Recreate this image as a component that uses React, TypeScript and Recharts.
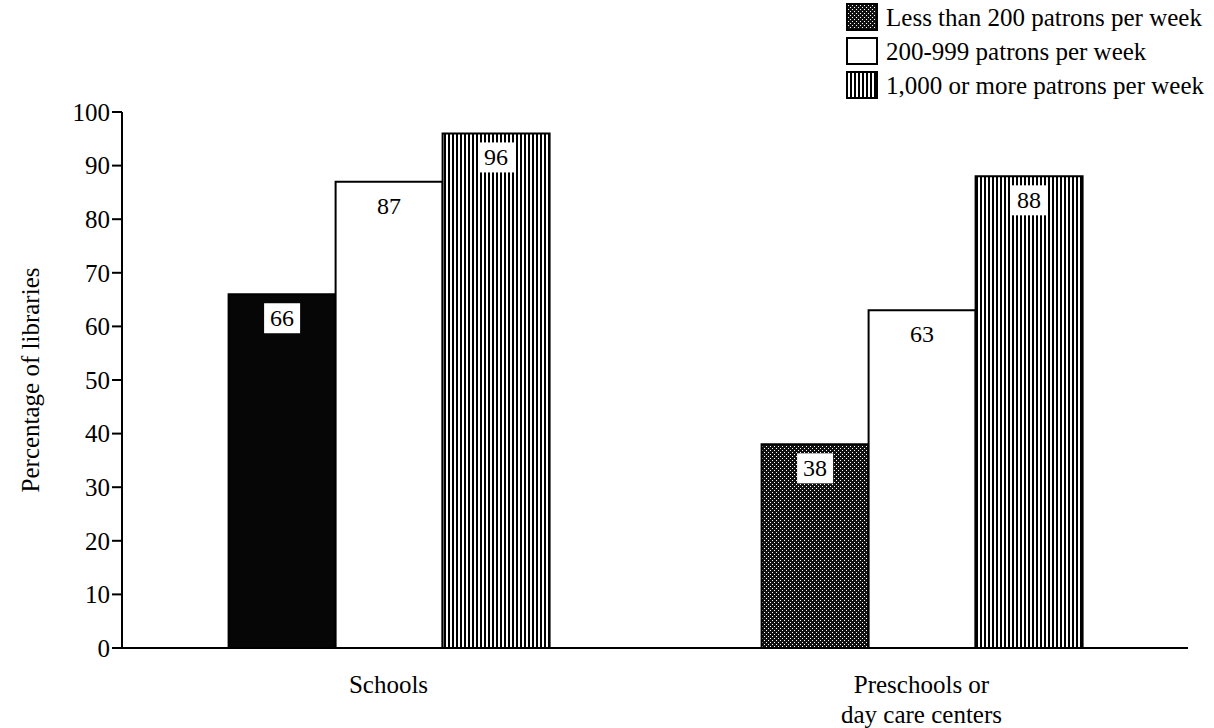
import React from "react";
import { BarChart, Bar, XAxis, YAxis, Cell, LabelList } from "recharts";

const categories = ["Schools", "Preschools or day care centers"];
const categoryLines = [["Schools"], ["Preschools or", "day care centers"]];
const under200 = [66, 38];
const from200to999 = [87, 63];
const over1000 = [96, 88];
const seriesNames = [
  "Less than 200 patrons per week",
  "200-999 patrons per week",
  "1,000 or more patrons per week",
];
const yTicks = [0, 10, 20, 30, 40, 50, 60, 70, 80, 90, 100];

const data = categories.map((name, i) => ({
  name,
  small: under200[i],
  medium: from200to999[i],
  large: over1000[i],
}));

const FONT = '"Liberation Serif", "Times New Roman", serif';
const smallFills = ["#060606", "url(#hatch)"];
const swatchFills = ["url(#hatch)", "#fff", "url(#stripes)"];

function ValueLabel(props: any) {
  const { x, y, width, value } = props;
  const cx = x + width / 2;
  const cy = y + 24;
  return (
    <g>
      <rect x={cx - 18} y={cy - 15} width={36} height={30} fill="#fff" />
      <text
        x={cx}
        y={cy}
        textAnchor="middle"
        dominantBaseline="central"
        fontFamily={FONT}
        fontSize={24}
        fill="#000"
      >
        {value}
      </text>
    </g>
  );
}

function CategoryTick(props: any) {
  const { x, y, payload } = props;
  const lines = categoryLines[payload.index] ?? [payload.value];
  return (
    <g transform={`translate(${x},${y})`}>
      {lines.map((line, i) => (
        <text
          key={line}
          x={0}
          y={37 + i * 30}
          textAnchor="middle"
          fontFamily={FONT}
          fontSize={25}
          fill="#000"
        >
          {line}
        </text>
      ))}
    </g>
  );
}

// legend sits over the top-right corner without taking room from the plot
function PatronLegend() {
  return (
    <div
      style={{
        position: "absolute",
        top: 0,
        right: 10,
        fontFamily: FONT,
        fontSize: 25,
        color: "#000",
        lineHeight: 1,
      }}
    >
      {seriesNames.map((name, i) => (
        <div key={name} style={{ display: "flex", alignItems: "center", height: 34 }}>
          <svg width={32} height={28} style={{ marginRight: 8 }}>
            <rect x={1} y={1} width={30} height={26} fill={swatchFills[i]} stroke="#000" strokeWidth={2} />
          </svg>
          <span style={{ whiteSpace: "nowrap" }}>{name}</span>
        </div>
      ))}
    </div>
  );
}

function AxisTitle(props: any) {
  const { viewBox } = props;
  const cy = viewBox.y + viewBox.height / 2;
  return (
    <text
      x={30}
      y={cy}
      transform={`rotate(-90, 30, ${cy})`}
      textAnchor="middle"
      dominantBaseline="central"
      fontFamily={FONT}
      fontSize={25}
      fill="#000"
    >
      Percentage of libraries
    </text>
  );
}

export default function App() {
  return (
    <div style={{ position: "absolute", top: 0, left: 0, width: 1214, height: 728, background: "#fff" }}>
      <BarChart
        width={1214}
        height={728}
        data={data}
        margin={{ top: 112, right: 26, bottom: 50, left: 0 }}
        barCategoryGap="20%"
        barGap={0}
      >
        <defs>
          <pattern id="hatch" width={4} height={4} patternUnits="userSpaceOnUse">
            <rect width={4} height={4} fill="#111" />
            <rect x={0} y={0} width={1} height={1} fill="#fff" />
            <rect x={2} y={2} width={1} height={1} fill="#fff" />
          </pattern>
          <pattern id="stripes" width={4} height={4} patternUnits="userSpaceOnUse">
            <rect width={4} height={4} fill="#fff" />
            <rect x={0} y={0} width={2} height={4} fill="#000" />
          </pattern>
        </defs>
        <XAxis
          dataKey="name"
          axisLine={{ stroke: "#000", strokeWidth: 2 }}
          tickLine={false}
          tick={<CategoryTick />}
          interval={0}
        />
        <YAxis
          domain={[0, 100]}
          ticks={yTicks}
          width={122}
          axisLine={{ stroke: "#000", strokeWidth: 2 }}
          tickLine={{ stroke: "#000", strokeWidth: 2 }}
          tickSize={10}
          tick={{ fontFamily: FONT, fontSize: 25, fill: "#000" }}
          label={<AxisTitle />}
        />
        <Bar dataKey="small" name={seriesNames[0]} stroke="#000" strokeWidth={2} isAnimationActive={false}>
          {data.map((d, i) => (
            <Cell key={d.name} fill={smallFills[i]} />
          ))}
          <LabelList dataKey="small" content={<ValueLabel />} />
        </Bar>
        <Bar dataKey="medium" name={seriesNames[1]} fill="#fff" stroke="#000" strokeWidth={2} isAnimationActive={false}>
          <LabelList dataKey="medium" content={<ValueLabel />} />
        </Bar>
        <Bar dataKey="large" name={seriesNames[2]} fill="url(#stripes)" stroke="#000" strokeWidth={2} isAnimationActive={false}>
          <LabelList dataKey="large" content={<ValueLabel />} />
        </Bar>
      </BarChart>
      <PatronLegend />
    </div>
  );
}
